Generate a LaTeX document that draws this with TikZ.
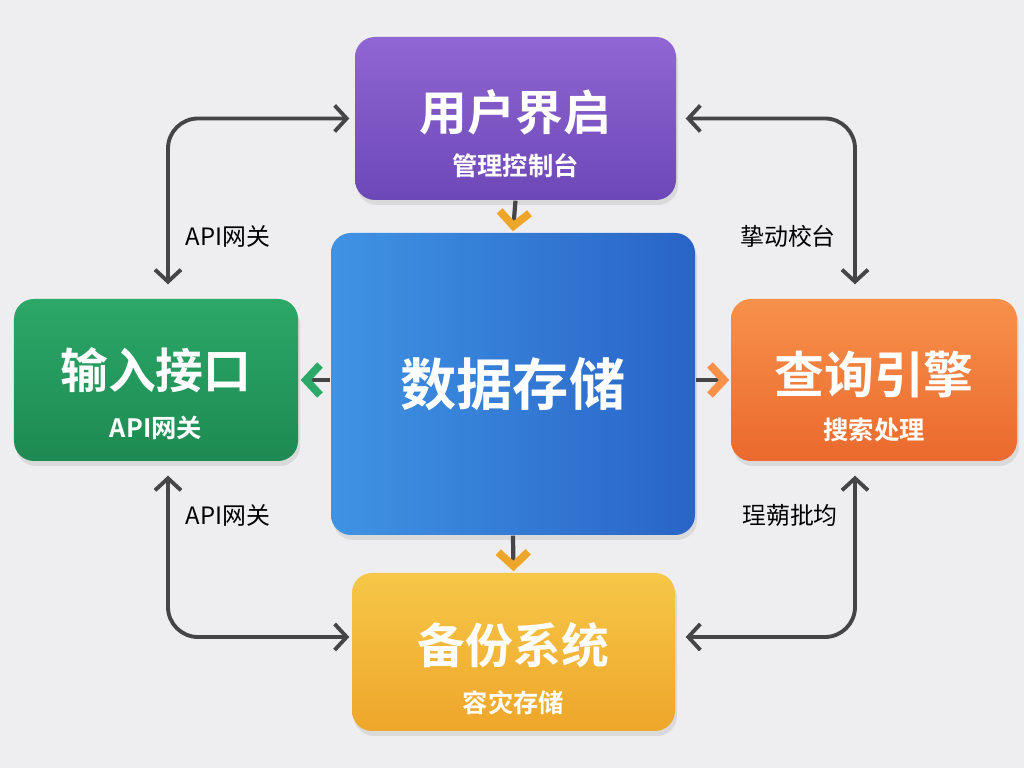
\documentclass[tikz,border=0pt]{standalone}
\usepackage{fontspec}
\setmainfont{Noto Sans CJK SC}[BoldFont=* Bold]
\usetikzlibrary{arrows.meta, shadows, positioning}

\definecolor{bgGray}{HTML}{EEEEF0}
\definecolor{lineGray}{HTML}{454548}
\definecolor{purpleA}{HTML}{9066D4}
\definecolor{purpleB}{HTML}{6C48B6}
\definecolor{blueA}{HTML}{3F93E4}
\definecolor{blueB}{HTML}{2964C6}
\definecolor{greenA}{HTML}{2CA868}
\definecolor{greenB}{HTML}{1D8A52}
\definecolor{orangeA}{HTML}{F7914A}
\definecolor{orangeB}{HTML}{EB692E}
\definecolor{yellowA}{HTML}{F6C748}
\definecolor{yellowB}{HTML}{EEA62A}

\tikzset{
  box/.style={rounded corners=0.2cm, inner sep=0pt,
    drop shadow={opacity=0.18, shadow xshift=0.02cm, shadow yshift=-0.05cm}},
  title/.style={text=white, font=\bfseries\fontsize{13.6pt}{15pt}\selectfont},
  sub/.style={text=white, font=\bfseries\fontsize{7.2pt}{8pt}\selectfont},
  lbl/.style={text=black, font=\fontsize{6.8pt}{8pt}\selectfont},
  loop/.style={draw=lineGray, line width=1.1pt, rounded corners=0.3cm,
    {Straight Barb[length=1.2mm, width=2.6mm, line width=1.1pt]}-{Straight Barb[length=1.2mm, width=2.6mm, line width=1.1pt]}},
  feed/.style={draw=lineGray, line width=1.2pt,
    -{Straight Barb[length=1.4mm, width=3.0mm, line width=2.2pt, color=#1]}}
}

\begin{document}
\begin{tikzpicture}
  % Fixed Bounding Box, 1 unit = 100px
  \useasboundingbox (0,0) rectangle (10.24,7.68);
  \fill[bgGray] (0,0) rectangle (10.24,7.68);

  % Boxes
  \node[box, minimum width=3.21cm, minimum height=1.63cm,
    top color=purpleA, bottom color=purpleB] (boxTop) at (5.155,6.495) {};
  \node[box, minimum width=3.64cm, minimum height=3.02cm,
    left color=blueA, right color=blueB] (boxCenter) at (5.13,3.84) {};
  \node[box, minimum width=2.84cm, minimum height=1.62cm,
    top color=greenA, bottom color=greenB] (boxLeft) at (1.56,3.88) {};
  \node[box, minimum width=2.86cm, minimum height=1.62cm,
    top color=orangeA, bottom color=orangeB] (boxRight) at (8.74,3.88) {};
  \node[box, minimum width=3.23cm, minimum height=1.58cm,
    top color=yellowA, bottom color=yellowB] (boxBottom) at (5.135,1.16) {};

  % Titles and subtitles
  \node[title] (titleTop) at ([yshift=0.06cm]boxTop.center) {用户界启};
  \node[sub] (subTop) at ([yshift=-0.47cm]boxTop.center) {管理控制台};
  \node[title, font=\bfseries\fontsize{16pt}{18pt}\selectfont] (titleCenter) at (boxCenter.center) {数据存储};
  \node[title] (titleLeft) at ([yshift=0.10cm]boxLeft.center) {输入接口};
  \node[sub] (subLeft) at ([yshift=-0.48cm]boxLeft.center) {API网关};
  \node[title, font=\bfseries\fontsize{14.2pt}{16pt}\selectfont] (titleRight) at ([yshift=0.05cm]boxRight.center) {查询引擎};
  \node[sub] (subRight) at ([yshift=-0.50cm]boxRight.center) {搜索处理};
  \node[title] (titleBottom) at ([yshift=0.07cm]boxBottom.center) {备份系统};
  \node[sub] (subBottom) at ([yshift=-0.51cm]boxBottom.center) {容灾存储};

  % Short feeds out of the store
  \draw[feed=yellowB] (boxTop.south) -- ([yshift=0.01cm]boxCenter.north);
  \draw[feed=yellowB] (boxCenter.south) -- ([yshift=0.01cm]boxBottom.north);
  \draw[feed=greenA] (boxCenter.west |- boxLeft.east) -- ([xshift=0.02cm]boxLeft.east);
  \draw[feed=orangeA] (boxCenter.east |- boxRight.west) -- ([xshift=-0.01cm]boxRight.west);

  % Outer loops
  \draw[loop] ([xshift=-0.05cm]boxTop.west) -| ([xshift=0.12cm, yshift=0.14cm]boxLeft.north);
  \draw[loop] ([xshift=0.09cm]boxTop.east) -| ([xshift=-0.19cm, yshift=0.14cm]boxRight.north);
  \draw[loop] ([xshift=-0.02cm, yshift=0.15cm]boxBottom.west) -| ([xshift=0.12cm, yshift=-0.14cm]boxLeft.south);
  \draw[loop] ([xshift=0.10cm, yshift=0.15cm]boxBottom.east) -| ([xshift=-0.19cm, yshift=-0.14cm]boxRight.south);

  % Loop labels
  \node[lbl] (lblTL) at (2.28,5.32) {API网关};
  \node[lbl] (lblTR) at (7.88,5.32) {挚动校台};
  \node[lbl] (lblBL) at (2.28,2.53) {API网关};
  \node[lbl] (lblBR) at (7.90,2.53) {珵蒴批均};
\end{tikzpicture}
\end{document}
